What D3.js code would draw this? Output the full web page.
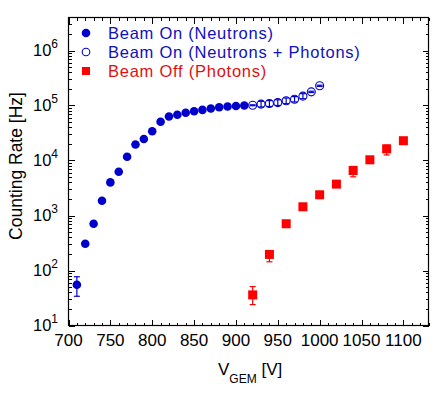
<!DOCTYPE html>
<html><head><meta charset="utf-8">
<script src="https://cdn.jsdelivr.net/npm/d3@7"></script>
<style>body{margin:0;background:#fff}svg{display:block}text{font-family:Arial,"Liberation Sans",sans-serif}</style>
</head><body>
<svg id="c" width="433" height="394"></svg>
<script>
// Data
const onX = [710,720,730,740,750,760,770,780,790,800,810,820,830,840,850,860,870,880,890,900,910];
const onY = [55,306,708,1860,4000,6240,11700,19600,24600,34000,50500,63000,68000,73600,78700,83300,88000,93000,96000,98000,100000];
const onLo = [34,null,null,null,null,null,null,null,null,null,null,null,null,null,null,null,null,null,null,null,null];
const onHi = [77,null,null,null,null,null,null,null,null,null,null,null,null,null,null,null,null,null,null,null,null];
const phX = [920,930,940,950,960,970,980,990,1000];
const phY = [101000,106000,109000,113000,122000,130000,148000,177000,228000];
const phLo = [99000,94000,96000,100000,108000,116000,133000,172000,222000];
const phHi = [103000,119000,123000,127000,137000,145000,164000,182000,234000];
const offX = [920,940,960,980,1000,1020,1040,1060,1080,1100];
const offY = [36,196,708,1440,2380,3720,6580,10300,16300,22900];
const offLo = [24,144,610,1380,2300,3350,5050,9900,12600,22000];
const offHi = [51,230,780,1500,2450,4100,7800,10700,19000,23800];
const xTicks = [700,750,800,850,900,950,1000,1050,1100];
const yTicks = [1e1,1e2,1e3,1e4,1e5,1e6];
const legendLabels = ["Beam On (Neutrons)","Beam On (Neutrons + Photons)","Beam Off (Photons)"];

const blue = "#0000cc", red = "#ff0000";
const svg = d3.select("#c");
const L = 68.5, R = 428.5, T = 17.5, B = 325.5;
const x = d3.scaleLinear().domain([700,1130]).range([L,R]);
const y = d3.scaleLog().domain([10, Math.pow(10,6.6)]).range([B,T]);

// minor ticks
const xMinor = d3.range(700,1131,10);
const yMinor = [];
for (let e=1;e<=6;e++) for (let m=1;m<=9;m++){const v=m*Math.pow(10,e); if(v<=Math.pow(10,6.6)) yMinor.push(v);}

const ax = svg.append("g").attr("stroke","#000").attr("stroke-width",1).attr("shape-rendering","crispEdges");
xMinor.forEach(v=>{
  const len = (v%50===0)?6:3;
  const px = Math.round(x(v))+0.5;
  ax.append("line").attr("x1",px).attr("x2",px).attr("y1",B).attr("y2",B-len);
  ax.append("line").attr("x1",px).attr("x2",px).attr("y1",T).attr("y2",T+len);
});
yMinor.forEach(v=>{
  const major = Math.abs(Math.log10(v)-Math.round(Math.log10(v)))<1e-9;
  const len = major?6:3;
  const py = Math.round(y(v))+0.5;
  ax.append("line").attr("y1",py).attr("y2",py).attr("x1",L).attr("x2",L+len);
  ax.append("line").attr("y1",py).attr("y2",py).attr("x1",R).attr("x2",R-len);
});
svg.append("rect").attr("x",L).attr("y",T).attr("width",R-L).attr("height",B-T)
  .attr("fill","none").attr("stroke","#000").attr("stroke-width",1.2);

// tick labels
svg.append("g").selectAll("text").data(xTicks).join("text")
  .attr("x",d=>x(d)).attr("y",346).attr("text-anchor","middle")
  .attr("font-size",17).text(d=>d);
const yl = svg.append("g").selectAll("text").data(yTicks).join("text")
  .attr("x",58).attr("y",d=>y(d)+5.5).attr("text-anchor","end").attr("font-size",16.5);
yl.append("tspan").text("10");
yl.append("tspan").attr("font-size",12).attr("dy",-8).text(d=>Math.round(Math.log10(d)));

// axis titles
svg.append("text").attr("transform","translate(22,166) rotate(-90)").attr("text-anchor","middle")
  .attr("font-size",17.5).text("Counting Rate [Hz]");
const xt = svg.append("text").attr("x",218).attr("y",375).attr("font-size",17);
xt.append("tspan").text("V");
xt.append("tspan").attr("font-size",12).attr("dy",8).text("GEM");
xt.append("tspan").attr("dy",-8).text(" [V]");

// error bars helper
function errBars(g, xs, lo, hi, color){
  xs.forEach((xv,i)=>{
    if(lo[i]==null) return;
    const px = x(xv);
    g.append("line").attr("x1",px).attr("x2",px).attr("y1",y(lo[i])).attr("y2",y(hi[i])).attr("stroke",color).attr("stroke-width",1.2);
    [lo[i],hi[i]].forEach(v=>g.append("line").attr("x1",px-3).attr("x2",px+3).attr("y1",y(v)).attr("y2",y(v)).attr("stroke",color).attr("stroke-width",1.2));
  });
}
const gOff = svg.append("g");
errBars(gOff, offX, offLo, offHi, red);
gOff.selectAll("rect").data(offX).join("rect")
  .attr("x",d=>x(d)-4.5).attr("y",(d,i)=>y(offY[i])-4.5).attr("width",9).attr("height",9).attr("fill",red);

const gOn = svg.append("g");
errBars(gOn, onX, onLo, onHi, blue);
gOn.selectAll("circle").data(onX).join("circle")
  .attr("cx",d=>x(d)).attr("cy",(d,i)=>y(onY[i])).attr("r",4.3).attr("fill",blue);

const gPh = svg.append("g");
gPh.selectAll("circle").data(phX).join("circle")
  .attr("cx",d=>x(d)).attr("cy",(d,i)=>y(phY[i])).attr("r",4).attr("fill","#fff").attr("stroke",blue).attr("stroke-width",1.1);
errBars(gPh, phX, phLo, phHi, blue);

// legend
const lg = svg.append("g");
const rows = [33,52,71];
lg.append("circle").attr("cx",86).attr("cy",rows[0]).attr("r",4.3).attr("fill",blue);
lg.append("circle").attr("cx",86).attr("cy",rows[1]).attr("r",3.8).attr("fill","#fff").attr("stroke",blue).attr("stroke-width",1.1);
lg.append("rect").attr("x",82).attr("y",rows[2]-4).attr("width",8).attr("height",8).attr("fill",red);
legendLabels.forEach((t,i)=>{
  lg.append("text").attr("x",108).attr("y",rows[i]+6).attr("font-size",16.5).attr("letter-spacing",0.75)
    .attr("fill",i<2?"#1010c0":"#e01010").text(t);
});
</script>
</body></html>
